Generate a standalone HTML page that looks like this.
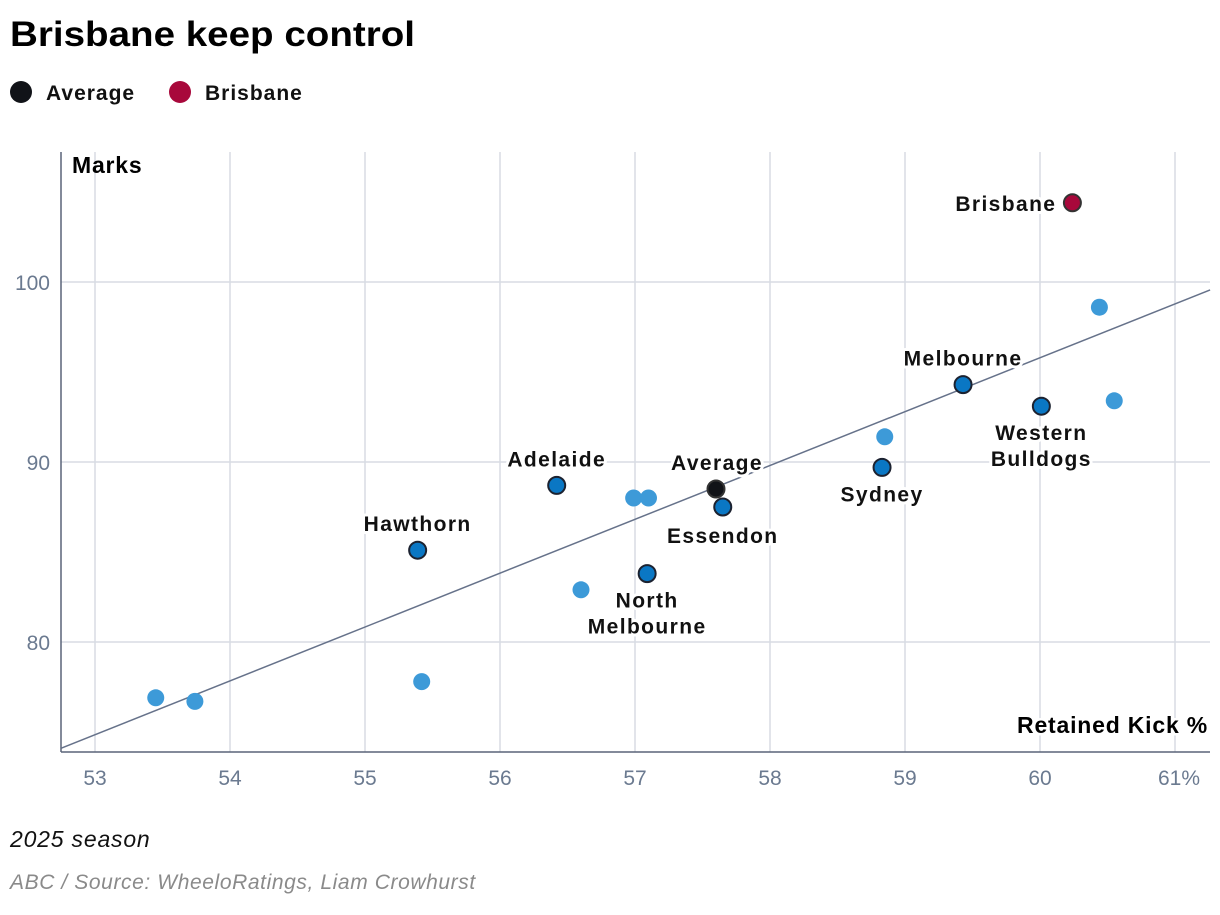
<!DOCTYPE html>
<html><head><meta charset="utf-8"><style>
body{margin:0;background:#fff;width:1220px;height:910px;overflow:hidden;font-family:"Liberation Sans",sans-serif}
svg text{font-family:"Liberation Sans",sans-serif}
</style></head><body>
<svg id="chart" width="1220" height="910" xmlns="http://www.w3.org/2000/svg">
<text x="10" y="46" font-size="35" font-weight="bold" fill="#000" textLength="405" lengthAdjust="spacingAndGlyphs">Brisbane keep control</text>
<g>
<circle cx="21" cy="92" r="11" fill="#111318"/>
<text x="46" y="100" font-size="21" font-weight="bold" fill="#111" letter-spacing="1">Average</text>
<circle cx="180" cy="92" r="11" fill="#a8083b"/>
<text x="205" y="100" font-size="21" font-weight="bold" fill="#111" letter-spacing="1">Brisbane</text>
</g>
<g id="grid"></g><g id="marks"></g><g id="labels"></g>
<text x="72" y="173" font-size="23" font-weight="bold" fill="#000" letter-spacing="0.8">Marks</text>
<text x="1208" y="733" font-size="23" font-weight="bold" fill="#000" text-anchor="end" letter-spacing="0.8" stroke="#fff" stroke-width="5" paint-order="stroke">Retained Kick %</text>
<text x="10" y="847" font-size="23" font-style="italic" fill="#111" letter-spacing="0.8">2025 season</text>
<text x="10" y="889" font-size="21" font-style="italic" fill="#8a8a8a" letter-spacing="0.6">ABC / Source: WheeloRatings, Liam Crowhurst</text>
</svg>
<script>
const xTicks=[53,54,55,56,57,58,59,60,61];
const xTickLabels=["53","54","55","56","57","58","59","60","61%"];
const yTicks=[80,90,100];
const bgX=[60.44,60.55,58.85,56.99,57.10,56.6,55.42,53.45,53.74];
const bgY=[98.6,93.4,91.4,88.0,88.0,82.9,77.8,76.9,76.7];
const teams=["Melbourne","Western Bulldogs","Sydney","Adelaide","Essendon","North Melbourne","Hawthorn"];
const teamX=[59.43,60.01,58.83,56.42,57.65,57.09,55.39];
const teamY=[94.3,93.1,89.7,88.7,87.5,83.8,85.1];
const avgX=[57.6],avgY=[88.5];
const brisX=[60.24],brisY=[104.4];
const trendX=[52.75,61.26],trendY=[74.1,99.56];
const X=v=>95+(v-53)*135, Y=v=>642-(v-80)*18;
const NS="http://www.w3.org/2000/svg";
function mk(p,t,a){const e=document.createElementNS(NS,t);for(const k in a)e.setAttribute(k,a[k]);p.appendChild(e);return e;}
const grid=document.getElementById('grid'),marks=document.getElementById('marks'),labels=document.getElementById('labels');
xTicks.forEach((t,i)=>{const l=mk(grid,'line',{x1:X(t),x2:X(t),y1:152,y2:752,stroke:'#d8dce3','stroke-width':1.5});

const tx=mk(grid,'text',{x:X(t)+(i==8?4:0),y:785,'font-size':21,fill:'#6b7a90','text-anchor':'middle'});tx.textContent=xTickLabels[i];
});
yTicks.forEach(t=>{const l=mk(grid,'line',{x1:61,x2:1210,y1:Y(t),y2:Y(t),stroke:'#d8dce3','stroke-width':1.5});

const tx=mk(grid,'text',{x:50,y:Y(t)+8,'font-size':21,fill:'#6b7a90','text-anchor':'end'});tx.textContent=t;
});
let a=mk(grid,'line',{x1:61,x2:61,y1:152,y2:752,stroke:'#5a6478','stroke-width':1.5});

a=mk(grid,'line',{x1:61,x2:1210,y1:752,y2:752,stroke:'#5a6478','stroke-width':1.5});

const tl=mk(marks,'line',{x1:X(trendX[0]),y1:Y(trendY[0]),x2:X(trendX[1]),y2:Y(trendY[1]),stroke:'#66728a','stroke-width':1.5});

bgX.forEach((v,i)=>{const c=mk(marks,'circle',{cx:X(v),cy:Y(bgY[i]),r:8.5,fill:'#3d9ad8'});
});
function lab(t,x,y,anchor){const lines=t.split('\n');lines.forEach((s,j)=>{const e=mk(labels,'text',{x:x,y:y+j*26,'font-size':21,'font-weight':'bold',fill:'#111','text-anchor':anchor||'middle','letter-spacing':1.4,stroke:'#fff','stroke-width':6,'paint-order':'stroke','stroke-linejoin':'round'});e.textContent=s;
});}
const off={"Melbourne":[0,-19,"Melbourne"],"Western Bulldogs":[0,34,"Western\nBulldogs"],"Sydney":[0,34,"Sydney"],"Adelaide":[0,-19,"Adelaide"],"Essendon":[0,36,"Essendon"],"North Melbourne":[0,34,"North\nMelbourne"],"Hawthorn":[0,-19,"Hawthorn"]};
teams.forEach((n,i)=>{const c=mk(marks,'circle',{cx:X(teamX[i]),cy:Y(teamY[i]),r:8.5,fill:'#0a77c4',stroke:'#1c2230','stroke-width':2});

const o=off[n];lab(o[2],X(teamX[i])+o[0],Y(teamY[i])+o[1]);});
let c=mk(marks,'circle',{cx:X(avgX[0]),cy:Y(avgY[0]),r:8.5,fill:'#111318',stroke:'#333','stroke-width':2});

lab("Average",X(avgX[0])+1,Y(avgY[0])-19);
c=mk(marks,'circle',{cx:X(brisX[0]),cy:Y(brisY[0]),r:8.5,fill:'#a8083b',stroke:'#333','stroke-width':2});

lab("Brisbane",X(brisX[0])-16,Y(brisY[0])+8,'end');
</script>
</body></html>
